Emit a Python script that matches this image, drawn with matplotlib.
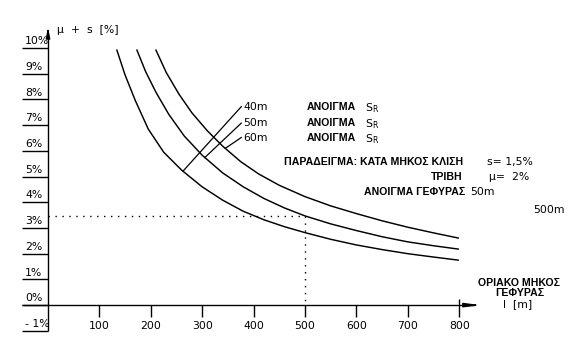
import matplotlib
matplotlib.use('Agg')
import matplotlib.pyplot as plt

# ── data ──────────────────────────────────────────────────
y_ticks = [-1, 0, 1, 2, 3, 4, 5, 6, 7, 8, 9, 10]
y_labels = ['- 1%', '0%', '1%', '2%', '3%', '4%', '5%', '6%', '7%', '8%', '9%', '10%']
x_ticks = [100, 200, 300, 400, 500, 600, 700, 800]

span_labels = ['40m', '50m', '60m']

curve_40_x = [134, 150, 170, 195, 225, 260, 300, 340, 380, 420, 460, 500,
              550, 600, 650, 700, 750, 798]
curve_40_y = [9.92, 8.95, 7.95, 6.85, 5.95, 5.25, 4.60, 4.08, 3.65, 3.32, 3.05, 2.82,
              2.56, 2.34, 2.16, 2.00, 1.87, 1.75]
curve_50_x = [173, 190, 210, 235, 265, 300, 340, 380, 420, 460, 500,
              550, 600, 650, 700, 750, 798]
curve_50_y = [9.92, 9.08, 8.28, 7.42, 6.58, 5.83, 5.14, 4.60, 4.15, 3.78, 3.47,
              3.16, 2.90, 2.66, 2.46, 2.31, 2.18]
curve_60_x = [210, 230, 255, 280, 310, 340, 375, 410, 450, 500,
              550, 600, 650, 700, 750, 798]
curve_60_y = [9.92, 9.05, 8.20, 7.48, 6.78, 6.18, 5.58, 5.10, 4.66, 4.22,
              3.86, 3.56, 3.28, 3.03, 2.81, 2.61]

# leader lines from each curve to its label
lead_x = [[263, 376], [305, 376], [345, 376]]
lead_y = [[5.22, 7.72], [5.74, 7.08], [6.10, 6.52]]

# worked example: span 50m, length 500m -> 3.47%
ex_len = 500
ex_val = 3.47

BOLD = dict(family='Liberation Sans', fontweight='bold', fontsize=7.6)
TECH = dict(family='DejaVu Sans', fontsize=7.8)

fig = plt.figure(figsize=(5.87, 3.56), dpi=100)
ax = fig.add_axes([0, 0, 1, 1])
ax.set_xlim(-93.4, 1048.6)
ax.set_ylim(-1.98, 11.87)
ax.axis('off')

k = dict(color='black', lw=1.0, solid_capstyle='butt')

# ── axes drawn like the technical sheet ───────────────────
ax.plot([0, 0], [-1, 10.55], **k)
ax.annotate('', xy=(0, 10.92), xytext=(0, 10.45),
            arrowprops=dict(arrowstyle='-|>,head_width=0.12,head_length=0.6',
                            color='black', lw=1.0))
ax.plot([-50, 830], [0, 0], **k)
ax.annotate('', xy=(847, 0), xytext=(820, 0),
            arrowprops=dict(arrowstyle='-|>,head_width=0.12,head_length=0.9',
                            color='black', lw=1.0))

for v, lab in zip(y_ticks, y_labels):
    ax.plot([-50, 0], [v, v], **k)
    ax.text(-44.5, v + 0.07, lab, ha='left', va='bottom', **TECH)

for v in x_ticks:
    top = 0.25 if v == 800 else 0
    ax.plot([v, v], [top, -0.47], **k)
    ax.text(v, -0.82, str(v), ha='center', va='center', **TECH)

ax.text(17, 10.72, 'μ  +  s  [%]', ha='left', va='center', **TECH)

# ── curves ────────────────────────────────────────────────
for cx, cy in [(curve_40_x, curve_40_y), (curve_50_x, curve_50_y),
               (curve_60_x, curve_60_y)]:
    ax.plot(cx, cy, color='black', lw=1.05, solid_joinstyle='round')

for lx, ly, lab in zip(lead_x, lead_y, span_labels):
    ax.plot(lx, ly, color='black', lw=0.9)
    ax.text(lx[1] + 4, ly[1], lab, ha='left', va='center', **TECH)
    ax.text(504, ly[1], 'ΑΝΟΙΓΜΑ', ha='left', va='center', **BOLD)
    ax.text(617, ly[1] - 0.05, r'S$_\mathregular{R}$', ha='left', va='center', **TECH)

# example dotted lines
ax.plot([0, ex_len], [ex_val, ex_val], color='black', lw=1.0, ls=(0, (1, 4)))
ax.plot([ex_len, ex_len], [ex_val, 0], color='black', lw=1.0, ls=(0, (1, 4)))

# ── annotations ───────────────────────────────────────────
ax.text(807, 5.56, 'ΠΑΡΑΔΕΙΓΜΑ: ΚΑΤΑ ΜΗΚΟΣ ΚΛΙΣΗ', ha='right', va='center', **BOLD)
ax.text(854, 5.56, 's= 1,5%', ha='left', va='center', **TECH)
ax.text(807, 4.98, 'ΤΡΙΒΗ', ha='right', va='center', **BOLD)
ax.text(858, 4.98, 'μ=  2%', ha='left', va='center', **TECH)
ax.text(811, 4.40, 'ΑΝΟΙΓΜΑ ΓΕΦΥΡΑΣ', ha='right', va='center', **BOLD)
ax.text(821, 4.40, '50m', ha='left', va='center', **TECH)
ax.text(944, 3.70, '500m', ha='left', va='center', **TECH)

ax.text(916, 0.86, 'ΟΡΙΑΚΟ ΜΗΚΟΣ', ha='center', va='center', **BOLD)
ax.text(918, 0.47, 'ΓΕΦΥΡΑΣ', ha='center', va='center', **BOLD)
ax.text(914, 0.04, 'l  [m]', ha='center', va='center', **TECH)

plt.savefig('out.png', dpi=100, facecolor='white')
plt.close()
